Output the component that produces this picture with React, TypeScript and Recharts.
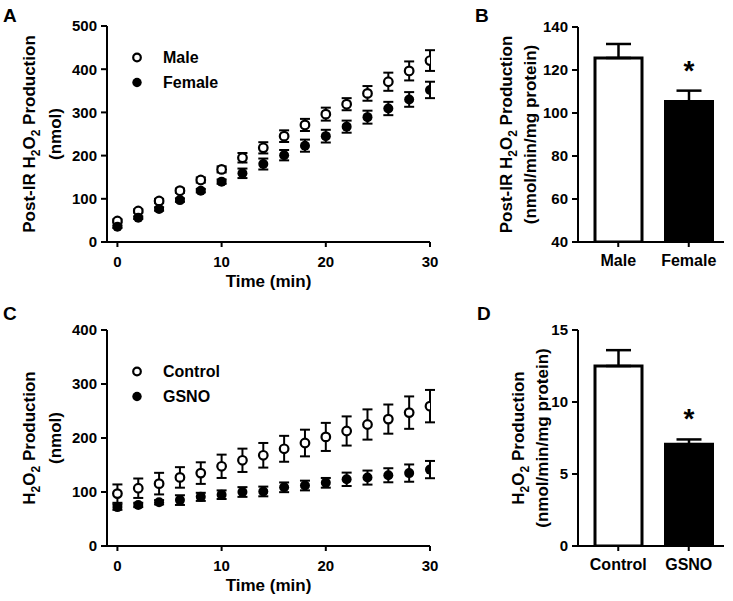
import React from 'react';
import {
  ScatterChart, Scatter, XAxis, YAxis, ErrorBar, Legend,
  BarChart, Bar, LabelList, Cell,
} from 'recharts';

// ---------- data ----------
const timePoints = [0, 2, 4, 6, 8, 10, 12, 14, 16, 18, 20, 22, 24, 26, 28, 30];

const maleMean = [48.6, 71.8, 94.9, 118.8, 143.5, 168, 195, 218, 245, 271, 296, 319, 344, 371, 396, 420];
const maleSem = [4, 4, 5, 5, 6, 7, 11, 13, 13.5, 14, 15, 14, 17, 21, 22, 24];
const femaleMean = [35.5, 56.3, 76.4, 97, 118.8, 139.7, 159, 180.5, 201, 223, 245, 267, 289, 309, 330, 352];
const femaleSem = [3, 3, 4, 4, 4, 5, 11, 12.7, 12, 14, 14.7, 14, 15, 15.4, 17, 19];

const controlMean = [97, 107, 115.5, 127, 135, 147.6, 158.7, 168, 180, 190.7, 202, 213, 225, 235, 247, 259];
const controlSem = [17, 18, 20, 19, 20, 21.6, 21.6, 22.8, 24, 24.7, 26, 27, 28, 27, 30, 30];
const gsnoMean = [72, 76, 81, 85, 91, 95, 100, 101, 108.7, 112, 117, 123.5, 126.7, 131, 135, 141.5];
const gsnoSem = [5, 4, 4, 9, 7.5, 8, 9, 9, 9, 9, 9, 12.4, 13, 13, 16, 16];

const sexGroups = ['Male', 'Female'];
const sexRate = [125.6, 105.4];
const sexRateSem = [6.5, 5.0];
const sexSig = ['', '*'];

const treatGroups = ['Control', 'GSNO'];
const treatRate = [12.5, 7.07];
const treatRateSem = [1.1, 0.33];
const treatSig = ['', '*'];

const timeTicks = [0, 10, 20, 30];
const ticksA = [0, 100, 200, 300, 400, 500];
const ticksB = [40, 60, 80, 100, 120, 140];
const ticksC = [0, 100, 200, 300, 400];
const ticksD = [0, 5, 10, 15];

// ---------- build tables ----------
const series = (mean: number[], sem: number[]) =>
  timePoints.map((t, i) => ({ t, v: mean[i], e: sem[i] }));
const maleData = series(maleMean, maleSem);
const femaleData = series(femaleMean, femaleSem);
const controlData = series(controlMean, controlSem);
const gsnoData = series(gsnoMean, gsnoSem);

const bars = (names: string[], mean: number[], sem: number[], sig: string[]) =>
  names.map((name, i) => ({ name, mean: mean[i], err: sem[i], sig: sig[i] }));
const sexBars = bars(sexGroups, sexRate, sexRateSem, sexSig);
const treatBars = bars(treatGroups, treatRate, treatRateSem, treatSig);

// ---------- styles ----------
const FONT = "'Liberation Sans', Arial, Helvetica, sans-serif";
const axisStroke = { stroke: '#000', strokeWidth: 2 };
const numTick = { fill: '#000', fontSize: 15, fontWeight: 700, fontFamily: FONT };
const catTick = { fill: '#000', fontSize: 16, fontWeight: 700, fontFamily: FONT };
const barFills = ['#ffffff', '#000000'];

type Seg = { t: string; sub?: boolean };

const h2o2 = (prefix: string): Seg[] => [
  { t: prefix + 'H' },
  { t: '2', sub: true },
  { t: 'O' },
  { t: '2', sub: true },
  { t: ' Production' },
];

function renderSegs(segs: Seg[]) {
  let shifted = false;
  return segs.map((s, i) => {
    let dy = 0;
    if (s.sub && !shifted) { dy = 5; shifted = true; }
    else if (!s.sub && shifted) { dy = -5; shifted = false; }
    return (
      <tspan key={i} dy={dy} fontSize={s.sub ? 12 : 17}>{s.t}</tspan>
    );
  });
}

const yTitle = (line1: Seg[], line2: string, x1: number, x2: number) => (props: any) => {
  const vb = props.viewBox || {};
  const cy = vb.y + vb.height / 2;
  const bx1 = (vb.x || 0) + x1;
  const bx2 = (vb.x || 0) + x2;
  return (
    <g fontFamily={FONT} fontWeight={700} fill="#000">
      <text x={bx1} y={cy} textAnchor="middle" fontSize={17} transform={`rotate(-90 ${bx1} ${cy})`}>
        {renderSegs(line1)}
      </text>
      <text x={bx2} y={cy} textAnchor="middle" fontSize={17} transform={`rotate(-90 ${bx2} ${cy})`}>
        {line2}
      </text>
    </g>
  );
};

const xTitle = (props: any) => {
  const vb = props.viewBox || {};
  return (
    <text x={vb.x + vb.width / 2} y={vb.y + 45} textAnchor="middle" fontFamily={FONT}
      fontWeight={700} fontSize={17} fill="#000">Time (min)</text>
  );
};

const openCircle = (p: any) => (
  <circle cx={p.cx} cy={p.cy} r={4.3} fill="#fff" stroke="#000" strokeWidth={2.2} />
);
const filledCircle = (p: any) => (
  <circle cx={p.cx} cy={p.cy} r={5} fill="#000" />
);

const legendContent = (names: string[]) => () => (
  <div>
    {names.map((name, i) => (
      <svg key={name} width={120} height={25} style={{ display: 'block' }}>
        {i === 0 ? (
          <circle cx={7} cy={12.5} r={3.8} fill="#fff" stroke="#000" strokeWidth={2.2} />
        ) : (
          <circle cx={7} cy={12.5} r={4.7} fill="#000" />
        )}
        <text x={33} y={18} fontFamily={FONT} fontWeight={700} fontSize={16} fill="#000">
          {name}
        </text>
      </svg>
    ))}
  </div>
);

const starLabel = (rows: any[], base: number) => (props: any) => {
  const { x, y, width, height, index } = props;
  const row = rows[index];
  if (!row || !row.sig) return null;
  const pxPer = height / (row.mean - base);
  const errTop = y - row.err * pxPer;
  return (
    <text x={x + width / 2} y={errTop - 11} textAnchor="middle" fontFamily={FONT}
      fontWeight={700} fontSize={28} fill="#000">{row.sig}</text>
  );
};

function TimeCourse(props: {
  a: any[]; b: any[]; aName: string; bName: string; yMax: number; ticks: number[];
  xAxisH: number; height: number; legendTop: number; title1: Seg[];
}) {
  return (
    <ScatterChart width={440} height={props.height} margin={{ top: 26, right: 10, bottom: 0, left: 0 }}>
      <XAxis type="number" dataKey="t" domain={[-1, 30]} ticks={timeTicks} interval={0}
        height={props.xAxisH} axisLine={axisStroke} tickLine={axisStroke} tickSize={5}
        tickMargin={9} tick={numTick} label={{ content: xTitle }} allowDataOverflow />
      <YAxis type="number" dataKey="v" domain={[0, props.yMax]} ticks={props.ticks} interval={0}
        width={107} axisLine={axisStroke} tickLine={axisStroke} tickSize={6} tickMargin={4}
        tick={numTick} label={{ content: yTitle(props.title1, '(nmol)', 35, 61) }} />
      <Scatter name={props.aName} data={props.a} shape={openCircle} isAnimationActive={false}>
        <ErrorBar dataKey="e" direction="y" width={5} stroke="#000" strokeWidth={2} />
      </Scatter>
      <Scatter name={props.bName} data={props.b} shape={filledCircle} isAnimationActive={false}>
        <ErrorBar dataKey="e" direction="y" width={5} stroke="#000" strokeWidth={2} />
      </Scatter>
      <Legend layout="vertical" align="center" verticalAlign="middle"
        content={legendContent([props.aName, props.bName])}
        wrapperStyle={{ left: 130, top: props.legendTop, width: 140 }} />
    </ScatterChart>
  );
}

function RateBars(props: {
  rows: any[]; base: number; yMax: number; ticks: number[]; height: number;
  xAxisH: number; top: number; yAxisW: number; title1: Seg[]; x1: number; x2: number;
}) {
  return (
    <BarChart width={293} height={props.height} data={props.rows}
      margin={{ top: props.top, right: 9, bottom: 0, left: 0 }}>
      <XAxis type="category" dataKey="name" padding={{ left: 5, right: 0 }} height={props.xAxisH}
        axisLine={axisStroke} tickLine={axisStroke} tickSize={5} tickMargin={8} tick={catTick}
        interval={0} />
      <YAxis type="number" domain={[props.base, props.yMax]} ticks={props.ticks} interval={0}
        width={props.yAxisW} axisLine={axisStroke} tickLine={axisStroke} tickSize={6} tickMargin={4}
        tick={numTick} allowDataOverflow
        label={{ content: yTitle(props.title1, '(nmol/min/mg protein)', props.x1, props.x2) }} />
      <Bar dataKey="mean" barSize={47} stroke="#000" strokeWidth={3} isAnimationActive={false}>
        {props.rows.map((r, i) => (
          <Cell key={r.name} fill={barFills[i]} />
        ))}
        <ErrorBar dataKey={(d: any) => [0, d.err]} direction="y" width={12.5} stroke="#000" strokeWidth={2.5} />
        <LabelList dataKey="sig" content={starLabel(props.rows, props.base)} />
      </Bar>
    </BarChart>
  );
}

export default function App() {
  return (
    <div style={{ position: 'absolute', left: 0, top: 0, width: 733, height: 601, background: '#fff', overflow: 'hidden' }}>
      <div style={{ position: 'absolute', left: 0, top: 0 }}>
        <TimeCourse a={maleData} b={femaleData} aName="Male" bName="Female" yMax={500}
          ticks={ticksA} xAxisH={58} height={300} legendTop={45} title1={h2o2('Post-IR ')} />
      </div>
      <div style={{ position: 'absolute', left: 440, top: 0 }}>
        <RateBars rows={sexBars} base={40} yMax={140} ticks={ticksB} height={300} xAxisH={58}
          top={27} yAxisW={138} title1={h2o2('Post-IR ')} x1={72} x2={96} />
      </div>
      <div style={{ position: 'absolute', left: 0, top: 304 }}>
        <TimeCourse a={controlData} b={gsnoData} aName="Control" bName="GSNO" yMax={400}
          ticks={ticksC} xAxisH={55} height={297} legendTop={55} title1={h2o2('')} />
      </div>
      <div style={{ position: 'absolute', left: 440, top: 304 }}>
        <RateBars rows={treatBars} base={0} yMax={15} ticks={ticksD} height={297} xAxisH={55}
          top={26} yAxisW={138} title1={h2o2('')} x1={84} x2={108} />
      </div>
      <svg width={733} height={601} style={{ position: 'absolute', left: 0, top: 0, pointerEvents: 'none' }}>
        <g fontFamily={FONT} fontWeight={700} fontSize={19} fill="#000">
          <text x={3} y={22}>A</text>
          <text x={475} y={22}>B</text>
          <text x={3} y={320}>C</text>
          <text x={477} y={320}>D</text>
        </g>
      </svg>
    </div>
  );
}
